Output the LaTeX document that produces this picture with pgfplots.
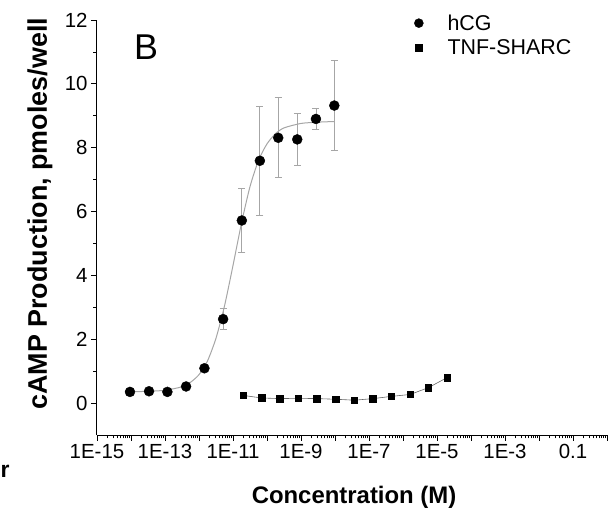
\documentclass[border=0pt]{standalone}
\usepackage{fontspec}
\setmainfont{Liberation Sans}
\usepackage{pgfplots}
\usepackage{pgfplotstable}
\pgfplotsset{compat=1.18}

% hCG: concentration, mean, error
\pgfplotstableread{
x         y     e
9.33e-15  0.35  0
3.39e-14  0.37  0
1.175e-13 0.35  0
4.17e-13  0.52  0
1.445e-12 1.09  0
5.13e-12  2.63  0.33
1.82e-11  5.72  1.00
6.17e-11  7.59  1.70
2.14e-10  8.31  1.25
7.76e-10  8.26  0.80
2.75e-9   8.90  0.33
9.55e-9   9.32  1.42
}\hcg

% fitted curve for hCG
\pgfplotstableread{
x         y
9.33e-15  0.35
3.16e-14  0.37
1e-13     0.40
3.16e-13  0.51
5.62e-13  0.65
1e-12     0.89
1.78e-12  1.32
3.16e-12  2.03
5.62e-12  3.04
1e-11     4.31
1.78e-11  5.64
3.16e-11  6.78
5.62e-11  7.60
1e-10     8.12
1.78e-10  8.44
3.16e-10  8.62
1e-9      8.76
3.16e-9   8.80
9.55e-9   8.82
}\hcgfit

% TNF-SHARC
\pgfplotstableread{
x        y
2.0e-11  0.24
6.92e-11 0.16
2.40e-10 0.14
8.32e-10 0.15
2.95e-9  0.14
1.05e-8  0.12
3.72e-8  0.09
1.32e-7  0.14
4.57e-7  0.21
1.62e-6  0.27
5.50e-6  0.48
2.0e-5   0.80
}\tnf

\begin{document}
\begin{tikzpicture}
\begin{axis}[
    at={(97bp,76bp)}, anchor=south west,
    width=510bp, height=415bp, scale only axis,
    xmode=log, xmin=1e-15, xmax=1,
    ymin=-1, ymax=12,
    axis lines=left,
    axis line style={-, line width=1bp},
    tick align=outside,
    tick style={black, line width=0.8bp},
    major tick length=6bp,
    minor tick length=3.5bp,
    xtick={1e-15,1e-14,1e-13,1e-12,1e-11,1e-10,1e-9,1e-8,1e-7,1e-6,1e-5,1e-4,1e-3,1e-2,1e-1,1},
    xticklabels={1E-15,{},1E-13,{},1E-11,{},1E-9,{},1E-7,{},1E-5,{},1E-3,{},0.1,{}},
    minor xtick={
      2e-15,3e-15,4e-15,5e-15,6e-15,7e-15,8e-15,9e-15,
      2e-14,3e-14,4e-14,5e-14,6e-14,7e-14,8e-14,9e-14,
      2e-13,3e-13,4e-13,5e-13,6e-13,7e-13,8e-13,9e-13,
      2e-12,3e-12,4e-12,5e-12,6e-12,7e-12,8e-12,9e-12,
      2e-11,3e-11,4e-11,5e-11,6e-11,7e-11,8e-11,9e-11,
      2e-10,3e-10,4e-10,5e-10,6e-10,7e-10,8e-10,9e-10,
      2e-9,3e-9,4e-9,5e-9,6e-9,7e-9,8e-9,9e-9,
      2e-8,3e-8,4e-8,5e-8,6e-8,7e-8,8e-8,9e-8,
      2e-7,3e-7,4e-7,5e-7,6e-7,7e-7,8e-7,9e-7,
      2e-6,3e-6,4e-6,5e-6,6e-6,7e-6,8e-6,9e-6,
      2e-5,3e-5,4e-5,5e-5,6e-5,7e-5,8e-5,9e-5,
      2e-4,3e-4,4e-4,5e-4,6e-4,7e-4,8e-4,9e-4,
      2e-3,3e-3,4e-3,5e-3,6e-3,7e-3,8e-3,9e-3,
      2e-2,3e-2,4e-2,5e-2,6e-2,7e-2,8e-2,9e-2,
      2e-1,3e-1,4e-1,5e-1,6e-1,7e-1,8e-1,9e-1},
    ytick={0,2,4,6,8,10,12},
    minor ytick={1,3,5,7,9,11},
    /pgf/number format/assume math mode=true,
    tick label style={font=\fontsize{20.5}{24}\selectfont},
    xlabel={Concentration (M)},
    xlabel style={font=\fontsize{24}{28}\selectfont\bfseries,
      at={(axis description cs:0.504,-0.149)}, anchor=center},
    ylabel={cAMP Production, pmoles/well},
    ylabel style={font=\fontsize{27}{30}\selectfont\bfseries,
      at={(axis description cs:-0.112,0.533)}, anchor=center},
    legend style={at={(axis description cs:0.616,1.023)}, anchor=north west,
      draw=none, fill=none, font=\fontsize{21.5}{24}\selectfont,
      row sep=4bp},
    legend cell align=left,
    legend image code/.code={%
      \draw[mark repeat=2, mark phase=2, #1]
        plot coordinates {(0cm,0cm) (0.3cm,0cm) (0.6cm,0cm)};
      \path (35bp,0bp);},
    clip=false,
]
\addlegendimage{only marks, mark=*, mark size=4.5bp, black}
\addlegendentry{hCG}
\addlegendimage{only marks, mark=square*, mark size=3.5bp, black}
\addlegendentry{TNF-SHARC}

\addplot[forget plot, gray!70, line width=1bp, smooth, tension=0.4] table[x=x, y=y] {\hcgfit};

\addplot[forget plot, black!60, line width=0.6bp, mark=square*,
    mark size=3.3bp, mark options={black, solid}] table[x=x, y=y] {\tnf};

\addplot[forget plot, only marks, mark=*, mark size=5bp, black,
    error bars/.cd, y dir=both, y explicit,
    error bar style={gray!70, line width=0.8bp},
    error mark options={rotate=90, gray!70, mark size=3.5bp, line width=0.8bp}]
    table[x=x, y=y, y error=e] {\hcg};
\end{axis}
\node[font=\fontsize{36}{40}\selectfont] at (146bp,464bp) {B};
\node[font=\fontsize{23}{26}\selectfont\bfseries] at (5bp,40bp) {r};
\pgfresetboundingbox
\useasboundingbox (0,0) rectangle (611bp,511bp);
\end{tikzpicture}
\end{document}
